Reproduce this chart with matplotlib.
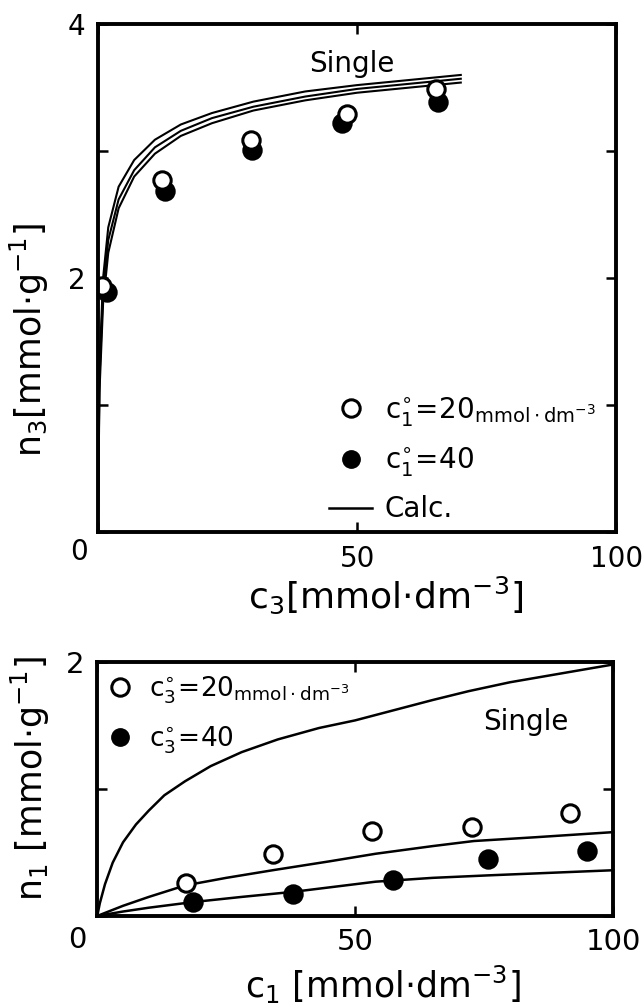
import matplotlib
matplotlib.use('Agg')
import matplotlib.pyplot as plt
from matplotlib.lines import Line2D

plt.rcParams['font.family'] = ['DejaVu Sans']
plt.rcParams['mathtext.default'] = 'regular'

# upper panel: n3 vs c3
c3_open = [0.8, 12.4, 29.5, 48.0, 65.3]
n3_open = [1.94, 2.77, 3.09, 3.29, 3.49]
c3_fill = [1.8, 13.0, 29.7, 47.0, 65.6]
n3_fill = [1.89, 2.69, 3.01, 3.22, 3.39]

calc3_x = [0, 0.3, 1, 2, 4, 7, 11, 16, 22, 30, 40, 50, 60, 70]
calc3_a = [0, 1.30, 2.00, 2.40, 2.72, 2.93, 3.09, 3.21, 3.30, 3.39, 3.47, 3.52, 3.56, 3.60]
calc3_b = [0, 1.20, 1.90, 2.30, 2.62, 2.85, 3.03, 3.16, 3.26, 3.35, 3.43, 3.49, 3.53, 3.57]
calc3_c = [0, 1.10, 1.80, 2.20, 2.55, 2.80, 2.98, 3.12, 3.22, 3.32, 3.40, 3.46, 3.50, 3.54]

# lower panel: n1 vs c1
c1_open = [17.2, 34.0, 53.2, 72.6, 91.7]
n1_open = [0.26, 0.49, 0.67, 0.70, 0.81]
c1_fill = [18.5, 37.9, 57.3, 75.8, 95.0]
n1_fill = [0.11, 0.17, 0.28, 0.45, 0.51]

single_x = [0, 0.5, 1.5, 3, 5, 7.5, 10, 13, 17, 22, 28, 35, 43, 50, 57.5, 65, 72, 80, 90, 100]
single_y = [0, 0.10, 0.25, 0.42, 0.58, 0.72, 0.83, 0.95, 1.06, 1.18, 1.29, 1.39, 1.48, 1.54,
            1.62, 1.70, 1.77, 1.84, 1.91, 1.98]
calc20_x = [0, 5, 10, 17, 25, 34, 45, 54, 65, 73, 85, 100]
calc20_y = [0, 0.08, 0.15, 0.24, 0.30, 0.36, 0.43, 0.49, 0.55, 0.59, 0.62, 0.66]
calc40_x = [0, 5, 10, 18.7, 28, 38, 54, 65, 76, 88, 100]
calc40_y = [0, 0.035, 0.065, 0.11, 0.15, 0.19, 0.27, 0.30, 0.32, 0.34, 0.36]

ms = 12.5
mew = 2.2

fig = plt.figure(figsize=(6.44, 10.06), dpi=100)
ax1 = fig.add_axes([0.152, 0.471, 0.805, 0.505])
ax2 = fig.add_axes([0.151, 0.0895, 0.801, 0.2525])


def style(ax, ymax, fs):
    for s in ax.spines.values():
        s.set_linewidth(2.8)
    ax.set_xlim(0, 100)
    ax.set_ylim(0, ymax)
    ax.set_xticks([0, 50, 100])
    ax.set_xticklabels(['', '50', '100'])
    ax.tick_params(direction='in', length=7, width=1.8, top=True, right=True,
                   labelsize=fs, pad=9)


# ---- upper panel
style(ax1, 4, 20)
ax1.set_yticks([0, 1, 2, 3, 4])
ax1.set_yticklabels(['', '', '2', '', '4'])
for yy in (calc3_a, calc3_b, calc3_c):
    ax1.plot(calc3_x, yy, color='black', lw=1.5, clip_on=False)
ax1.plot(c3_fill, n3_fill, 'o', color='black', ms=ms, mew=mew)
ax1.plot(c3_open, n3_open, 'o', mfc='white', mec='black', ms=ms, mew=mew)
ax1.text(-3.7, -0.16, '0', fontsize=20, ha='center', va='center', clip_on=False)
ax1.text(49, 3.69, 'Single', fontsize=20, ha='center', va='center')

h1 = [Line2D([], [], ls='none', marker='o', mfc='white', mec='black', ms=ms, mew=mew),
      Line2D([], [], ls='none', marker='o', color='black', ms=ms),
      Line2D([], [], color='black', lw=1.8)]
l1 = [r'$c_1^{\circ}\!=\!20_{mmol\cdot dm^{-3}}$', r'$c_1^{\circ}\!=\!40$', 'Calc.']
ax1.legend(h1, l1, loc='upper left', bbox_to_anchor=(44.6, 1.08),
           bbox_transform=ax1.transData, frameon=False, fontsize=20,
           handlelength=1.55, handletextpad=0.45, labelspacing=0.62,
           borderpad=0, borderaxespad=0)

fig.text(0.045, 0.662, r'$n_3$[mmol$\cdot$g$^{-1}$]', fontsize=25,
         rotation=90, ha='center', va='center')
fig.text(0.598, 0.408, r'$c_3$[mmol$\cdot$dm$^{-3}$]', fontsize=26,
         ha='center', va='center')

# ---- lower panel
style(ax2, 2, 21)
ax2.set_yticks([0, 1, 2])
ax2.set_yticklabels(['', '', '2'])
ax2.plot(single_x, single_y, color='black', lw=1.8, clip_on=False)
ax2.plot(calc20_x, calc20_y, color='black', lw=1.8, clip_on=False)
ax2.plot(calc40_x, calc40_y, color='black', lw=1.8, clip_on=False)
ax2.plot(c1_open, n1_open, 'o', mfc='white', mec='black', ms=ms, mew=mew)
ax2.plot(c1_fill, n1_fill, 'o', color='black', ms=ms, mew=mew)
ax2.text(-3.9, -0.19, '0', fontsize=21, ha='center', va='center', clip_on=False)
ax2.text(83, 1.53, 'Single', fontsize=20, ha='center', va='center')

h2 = [Line2D([], [], ls='none', marker='o', mfc='white', mec='black', ms=ms, mew=mew),
      Line2D([], [], ls='none', marker='o', color='black', ms=ms)]
l2 = [r'$c_3^{\circ}\!=\!20_{mmol\cdot dm^{-3}}$', r'$c_3^{\circ}\!=\!40$']
ax2.legend(h2, l2, loc='upper left', bbox_to_anchor=(1.0, 1.90),
           bbox_transform=ax2.transData, frameon=False, fontsize=19,
           handlelength=1.3, handletextpad=0.45, labelspacing=0.68,
           borderpad=0, borderaxespad=0)

fig.text(0.047, 0.226, r'$n_1$ [mmol$\cdot$g$^{-1}$]', fontsize=25,
         rotation=90, ha='center', va='center')
fig.text(0.595, 0.021, r'$c_1$ [mmol$\cdot$dm$^{-3}$]', fontsize=25,
         ha='center', va='center')

fig.savefig('out.png', dpi=100)
